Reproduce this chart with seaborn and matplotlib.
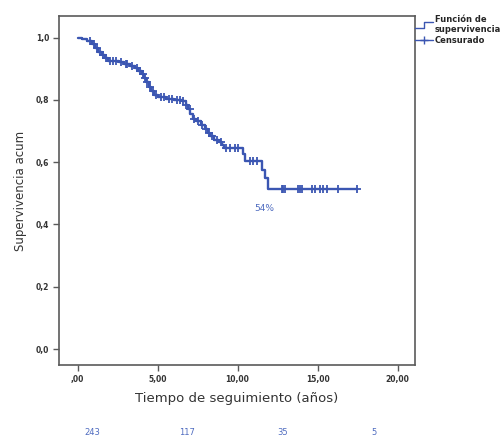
import numpy as np
import pandas as pd
import matplotlib
matplotlib.use("Agg")
import matplotlib.pyplot as plt
from matplotlib.lines import Line2D
from matplotlib.legend_handler import HandlerBase
import seaborn as sns

# Kaplan-Meier steps: event time (years) and cumulative survival after the event
step_times = [0.0, 0.3, 0.6, 0.9, 1.1, 1.3, 1.5, 1.7, 1.9, 2.6, 2.9, 3.3, 3.6, 3.8,
              4.0, 4.15, 4.3, 4.45, 4.6, 4.75, 5.0, 5.5, 6.0, 6.5, 6.75, 6.9, 7.05,
              7.2, 7.4, 7.7, 7.95, 8.15, 8.3, 8.5, 8.85, 9.05, 9.15, 10.35, 10.45,
              11.55, 11.7, 11.92, 17.45]
step_surv = [1.0, 0.996, 0.988, 0.979, 0.967, 0.955, 0.945, 0.935, 0.925, 0.921,
             0.915, 0.910, 0.904, 0.893, 0.882, 0.870, 0.857, 0.843, 0.828, 0.815,
             0.808, 0.804, 0.800, 0.795, 0.785, 0.770, 0.755, 0.740, 0.733, 0.720,
             0.708, 0.695, 0.683, 0.670, 0.665, 0.655, 0.645, 0.625, 0.604, 0.575,
             0.549, 0.513, 0.513]

# Censored observations (years)
censor_times = [0.8, 1.0, 1.2, 1.4, 1.6, 1.8, 2.0, 2.2, 2.4, 2.7, 3.0, 3.1, 3.4,
                3.7, 3.9, 4.1, 4.2, 4.35, 4.5, 4.7, 4.9, 5.2, 5.4, 5.7, 5.9, 6.2,
                6.4, 6.6, 6.8, 7.0, 7.3, 7.5, 7.8, 8.0, 8.2, 8.4, 8.7, 8.95, 9.3,
                9.5, 9.84, 10.03, 10.75, 10.95, 11.2, 12.76, 12.86, 12.97, 13.80,
                13.91, 14.01, 14.64, 14.84, 15.16, 15.36, 15.57, 16.30, 17.45]

# Patients at risk shown under the time axis
at_risk = ["243", "117", "35", "5"]

x_ticks = [0, 5, 10, 15, 20]
x_tick_labels = [",00", "5,00", "10,00", "15,00", "20,00"]
y_ticks = [0.0, 0.2, 0.4, 0.6, 0.8, 1.0]
y_tick_labels = ["0,0", "0,2", "0,4", "0,6", "0,8", "1,0"]

sns.set_theme(style="white")
plt.rcParams["font.family"] = ["DejaVu Sans"]

line_color = "#3b56b2"
text_blue = "#4f6cc0"
frame_color = "#5a5a5a"

curve = pd.DataFrame({"t": step_times, "s": step_surv})
st = np.asarray(step_times)
ss = np.asarray(step_surv)
cens_surv = ss[np.searchsorted(st, np.asarray(censor_times), side="right") - 1]
cens = pd.DataFrame({"t": censor_times, "s": cens_surv})

fig = plt.figure(figsize=(5.0, 4.36), dpi=100)
ax = fig.add_axes([0.118, 0.163, 0.712, 0.800])

sns.lineplot(data=curve, x="t", y="s", ax=ax, color=line_color, lw=1.7,
             drawstyle="steps-post", estimator=None, sort=False)
sns.scatterplot(data=cens, x="t", y="s", ax=ax, marker="+", s=26,
                color=line_color, linewidth=1.3, zorder=3)

ax.set_xlim(-1.16, 21.09)
ax.set_ylim(-0.051, 1.069)
ax.set_xticks(x_ticks)
ax.set_xticklabels(x_tick_labels)
ax.set_yticks(y_ticks)
ax.set_yticklabels(y_tick_labels)
ax.tick_params(axis="both", direction="out", length=4, width=1.0,
               color=frame_color, labelsize=5.5, labelcolor="#333333",
               bottom=True, left=True, pad=3)
for lab in ax.get_xticklabels() + ax.get_yticklabels():
    lab.set_fontweight("bold")
for sp in ax.spines.values():
    sp.set_color(frame_color)
    sp.set_linewidth(1.2)
    sp.set_visible(True)

ax.set_xlabel("Tiempo de seguimiento (años)", fontsize=9.5, color="#333333",
              labelpad=6)
ax.set_ylabel("Supervivencia acum", fontsize=8.5, color="#333333", labelpad=6)

ax.text(11.7, 0.45, "54%", color=text_blue, fontsize=6.5, ha="center",
        va="center")

# Numbers at risk row
for xp, lab in zip([92, 187, 283, 374], at_risk):
    fig.text(xp / 500, 1 - 432 / 436, lab, color=text_blue, fontsize=6,
             ha="center", va="center")


class HandlerStep(HandlerBase):
    def create_artists(self, legend, orig_handle, xdescent, ydescent,
                       width, height, fontsize, trans):
        xs = [-xdescent, -xdescent + width * 0.5, -xdescent + width * 0.5,
              -xdescent + width]
        ys = [-ydescent, -ydescent, -ydescent + height, -ydescent + height]
        ln = Line2D(xs, ys, color=orig_handle.get_color(), lw=1.0,
                    transform=trans)
        return [ln]


h_curve = Line2D([], [], color=line_color, lw=1.0)
h_cens = Line2D([], [], color=line_color, lw=1.0, marker="+", markersize=6)
leg = fig.legend([h_curve, h_cens], ["Función de\nsupervivencia", "Censurado"],
                 handler_map={h_curve: HandlerStep()},
                 loc="upper left", bbox_to_anchor=(0.826, 0.97), frameon=False,
                 prop={"size": 6, "weight": "bold"}, handlelength=2.2,
                 handletextpad=0.2, labelspacing=0.2, borderpad=0.2,
                 borderaxespad=0)

fig.savefig("out.png", dpi=100)
